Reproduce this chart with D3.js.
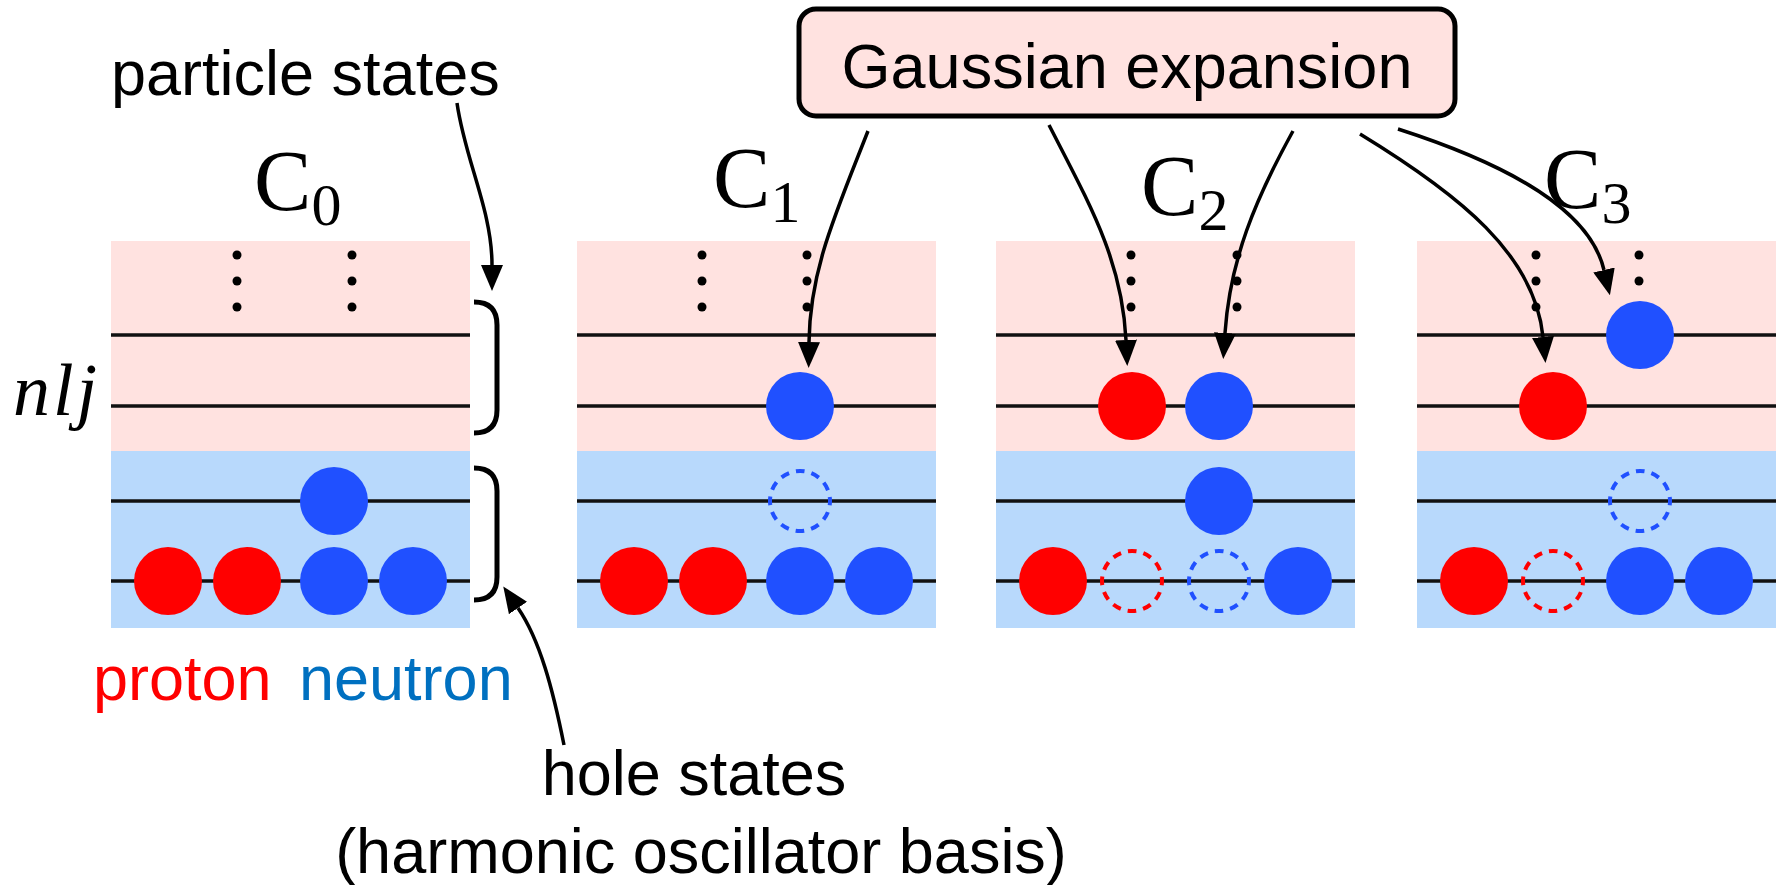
<!DOCTYPE html>
<html>
<head>
<meta charset="utf-8">
<script src="https://cdn.jsdelivr.net/npm/d3@7"></script>
<style>
  body { margin: 0; background: #fff; }
  svg { display: block; }
</style>
</head>
<body>
<svg id="diagram"></svg>
<script>
// configurations and levels
const panels = ['C0', 'C1', 'C2', 'C3'];
const panelSubs = ['0', '1', '2', '3'];
const levels = ['p2', 'p1', 'h2', 'h1']; // top to bottom: two particle, two hole levels
const slots = ['p1', 'p2', 'n1', 'n2'];

// [panel, level, slot, species, isHole]
const nucleons = [
  ['C0', 'h1', 'p1', 'p', false], ['C0', 'h1', 'p2', 'p', false],
  ['C0', 'h1', 'n1', 'n', false], ['C0', 'h1', 'n2', 'n', false],
  ['C0', 'h2', 'n1', 'n', false],

  ['C1', 'h1', 'p1', 'p', false], ['C1', 'h1', 'p2', 'p', false],
  ['C1', 'h1', 'n1', 'n', false], ['C1', 'h1', 'n2', 'n', false],
  ['C1', 'h2', 'n1', 'n', true],  ['C1', 'p1', 'n1', 'n', false],

  ['C2', 'h1', 'p1', 'p', false], ['C2', 'h1', 'p2', 'p', true],
  ['C2', 'h1', 'n1', 'n', true],  ['C2', 'h1', 'n2', 'n', false],
  ['C2', 'h2', 'n1', 'n', false], ['C2', 'p1', 'p2', 'p', false],
  ['C2', 'p1', 'n1', 'n', false],

  ['C3', 'h1', 'p1', 'p', false], ['C3', 'h1', 'p2', 'p', true],
  ['C3', 'h1', 'n1', 'n', false], ['C3', 'h1', 'n2', 'n', false],
  ['C3', 'h2', 'n1', 'n', true],  ['C3', 'p1', 'p2', 'p', false],
  ['C3', 'p2', 'n1', 'n', false]
];

// "more levels" dots: [panel, column]
const dotCols = [
  ['C0', 0], ['C0', 1], ['C1', 0], ['C1', 1],
  ['C2', 0], ['C2', 1], ['C3', 0], ['C3', 1]
];
const dotRows = [0, 1, 2];

const width = 1783;
const height = 885;
const panelW = 359;
const radius = 34;
const holeR = 30;

const colors = { p: '#ff0000', n: '#2050ff' };

const svg = d3.select('#diagram').attr('width', width).attr('height', height);

const panelX = d3.scaleOrdinal().domain(panels).range([111, 577, 996, 1417]);
const levelY = d3.scaleOrdinal().domain(levels).range([335, 406, 501, 581]);
const slotX = d3.scaleOrdinal().domain(slots).range([57, 136, 223, 302]);
const dotColX = {
  C0: [126, 241], C1: [125, 230], C2: [135, 241], C3: [119, 222]
};
const dotY = d3.scaleLinear().domain([0, 2]).range([255, 307]);

const bandTop = 241, bandMid = 451, bandBottom = 628;

// panel backgrounds
const pg = svg.append('g').attr('id', 'panels');
pg.selectAll('.pink')
  .data(panels)
  .enter()
  .append('rect')
  .attr('x', d => panelX(d))
  .attr('y', bandTop)
  .attr('width', panelW)
  .attr('height', bandMid - bandTop)
  .attr('fill', '#ffe2e0');
pg.selectAll('.blue')
  .data(panels)
  .enter()
  .append('rect')
  .attr('x', d => panelX(d))
  .attr('y', bandMid)
  .attr('width', panelW)
  .attr('height', bandBottom - bandMid)
  .attr('fill', '#b8d9fc');

// level lines
const lineData = d3.cross(panels, levels);
pg.selectAll('line')
  .data(lineData)
  .enter()
  .append('line')
  .attr('x1', d => panelX(d[0]))
  .attr('x2', d => panelX(d[0]) + panelW)
  .attr('y1', d => levelY(d[1]))
  .attr('y2', d => levelY(d[1]))
  .attr('stroke', '#111')
  .attr('stroke-width', 3.5);

// vertical dots
pg.selectAll('.dot')
  .data(d3.cross(dotCols, dotRows))
  .enter()
  .append('circle')
  .attr('cx', d => panelX(d[0][0]) + dotColX[d[0][0]][d[0][1]])
  .attr('cy', d => dotY(d[1]))
  .attr('r', 4.5)
  .attr('fill', '#000');

// nucleons (holes drawn dashed)
const period = (2 * Math.PI * holeR) / 12;
const ng = svg.append('g').attr('id', 'nucleons');
ng.selectAll('circle')
  .data(nucleons)
  .enter()
  .append('circle')
  .attr('cx', d => panelX(d[0]) + slotX(d[2]))
  .attr('cy', d => levelY(d[1]))
  .attr('r', d => (d[4] ? holeR : radius))
  .attr('fill', d => (d[4] ? 'none' : colors[d[3]]))
  .attr('stroke', d => (d[4] ? colors[d[3]] : 'none'))
  .attr('stroke-width', 4)
  .attr('stroke-dasharray', d => (d[4] ? `${period * 0.55},${period * 0.45}` : null))
  .attr('stroke-dashoffset', period * 0.275);

// braces
const braces = [
  [302, 433],
  [468, 600]
];
svg.selectAll('.brace')
  .data(braces)
  .enter()
  .append('path')
  .attr('d', d => {
    const p = d3.path();
    p.moveTo(474, d[0]);
    p.bezierCurveTo(490, d[0], 497, d[0] + 8, 497, d[0] + 23);
    p.lineTo(497, d[1] - 23);
    p.bezierCurveTo(497, d[1] - 8, 490, d[1], 474, d[1]);
    return p.toString();
  })
  .attr('fill', 'none')
  .attr('stroke', '#000')
  .attr('stroke-width', 5);

// arrows
svg.append('defs')
  .append('marker')
  .attr('id', 'head')
  .attr('viewBox', '0 -11 26 22')
  .attr('refX', 0)
  .attr('refY', 0)
  .attr('markerWidth', 26)
  .attr('markerHeight', 22)
  .attr('markerUnits', 'userSpaceOnUse')
  .attr('orient', 'auto')
  .append('path')
  .attr('d', 'M0,-11L26,0L0,11Z')
  .attr('fill', '#000');

const arrows = [
  [[457, 103], [465, 160], [492, 210], [492, 265]],
  [[564, 745], [553, 690], [540, 640], [518, 608]],
  [[868, 131], [835, 215], [810, 270], [809, 342]],
  [[1049, 125], [1090, 205], [1122, 260], [1126, 340]],
  [[1293, 131], [1255, 200], [1230, 260], [1225, 333]],
  [[1360, 134], [1460, 195], [1535, 255], [1543, 337]],
  [[1398, 129], [1510, 165], [1590, 210], [1604, 270]]
];
svg.selectAll('.arrow')
  .data(arrows)
  .enter()
  .append('path')
  .attr('d', d => {
    const p = d3.path();
    p.moveTo(d[0][0], d[0][1]);
    p.bezierCurveTo(d[1][0], d[1][1], d[2][0], d[2][1], d[3][0], d[3][1]);
    return p.toString();
  })
  .attr('fill', 'none')
  .attr('stroke', '#000')
  .attr('stroke-width', 3.5)
  .attr('marker-end', 'url(#head)');

// configuration labels
const serif = '"Liberation Serif", "Times New Roman", serif';
const labelPos = { C0: [254, 210], C1: [713, 207], C2: [1141, 215], C3: [1544, 208] };
const labels = svg.selectAll('.clabel')
  .data(panels)
  .enter()
  .append('text')
  .attr('x', d => labelPos[d][0])
  .attr('y', d => labelPos[d][1])
  .attr('font-family', serif)
  .attr('font-size', 86);
labels.append('tspan').text('C');
labels.append('tspan')
  .attr('dy', 15)
  .attr('font-size', 60)
  .text((d, i) => panelSubs[i]);

// Gaussian expansion box
svg.append('rect')
  .attr('x', 799)
  .attr('y', 9)
  .attr('width', 656)
  .attr('height', 107)
  .attr('rx', 17)
  .attr('fill', '#ffe2e0')
  .attr('stroke', '#000')
  .attr('stroke-width', 5);

const sans = '"Liberation Sans", Arial, sans-serif';
const texts = [
  { t: 'Gaussian expansion', x: 1127, y: 88, a: 'middle', c: '#000' },
  { t: 'particle states', x: 111, y: 95, a: 'start', c: '#000' },
  { t: 'proton', x: 93, y: 700, a: 'start', c: '#ff0000' },
  { t: 'neutron', x: 299, y: 700, a: 'start', c: '#0070c0' },
  { t: 'hole states', x: 694, y: 795, a: 'middle', c: '#000' },
  { t: '(harmonic oscillator basis)', x: 701, y: 873, a: 'middle', c: '#000' }
];
svg.selectAll('.txt')
  .data(texts)
  .enter()
  .append('text')
  .attr('x', d => d.x)
  .attr('y', d => d.y)
  .attr('text-anchor', d => d.a)
  .attr('fill', d => d.c)
  .attr('font-family', sans)
  .attr('font-size', 63)
  .text(d => d.t);

svg.append('text')
  .attr('x', 13)
  .attr('y', 415)
  .attr('font-family', serif)
  .attr('font-style', 'italic')
  .attr('font-size', 74)
  .attr('letter-spacing', 3)
  .text('nlj');
</script>
</body>
</html>
